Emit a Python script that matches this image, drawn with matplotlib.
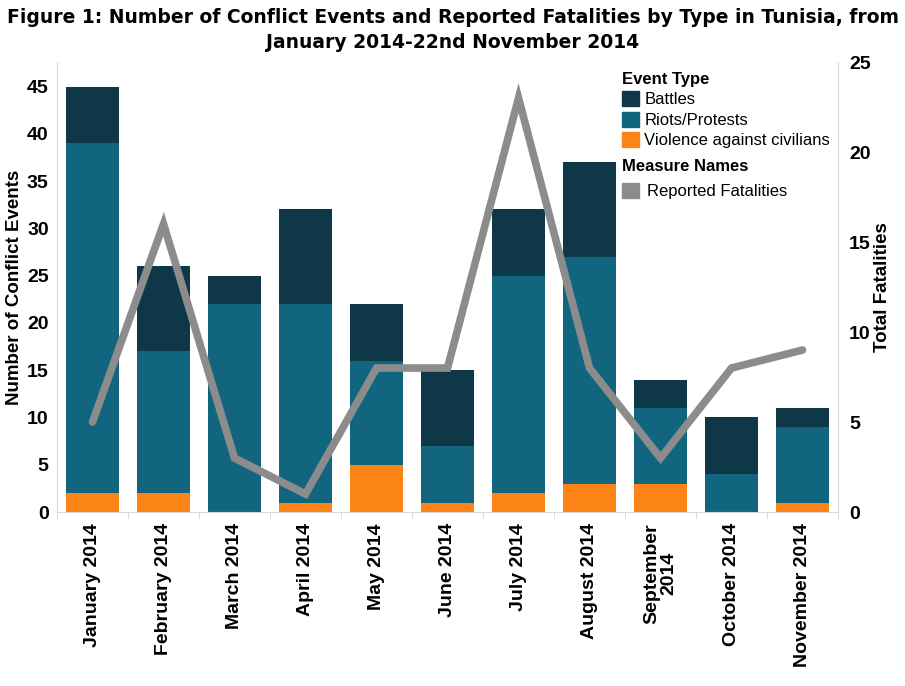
from matplotlib import pyplot as plt
from matplotlib.patches import Patch
import numpy as np

months = ["January 2014", "February 2014", "March 2014", "April 2014", "May 2014",
          "June 2014", "July 2014", "August 2014", "September\n2014",
          "October 2014", "November 2014"]
violence = [2, 2, 0, 1, 5, 1, 2, 3, 3, 0, 1]
riots = [37, 15, 22, 21, 11, 6, 23, 24, 8, 4, 8]
battles = [6, 9, 3, 10, 6, 8, 7, 10, 3, 6, 2]
fatalities = [5, 16, 3, 1, 8, 8, 23, 8, 3, 8, 9]

c_battles = "#0e3848"
c_riots = "#11657e"
c_violence = "#fc8315"
c_line = "#8c8c8c"
edge = "#d9d9d9"

plt.rcParams['font.family'] = ['Liberation Sans', 'DejaVu Sans']

fig = plt.figure(figsize=(9.05, 6.86), dpi=100)
ax = fig.add_axes([0.063, 0.2536, 0.863, 0.656])
x = np.arange(len(months))
v = np.array(violence)
r = np.array(riots)
b = np.array(battles)
ax.bar(x, v, width=0.75, color=c_violence, zorder=2)
ax.bar(x, r, width=0.75, bottom=v, color=c_riots, zorder=2)
ax.bar(x, b, width=0.75, bottom=v + r, color=c_battles, zorder=2)
ax.set_xlim(-0.5, len(months) - 0.5)
ax.set_ylim(0, 47.6)
ax.set_yticks(range(0, 50, 5))
ax.set_xticks(x)
ax.set_xticklabels(months, rotation=90, fontsize=14, fontweight='bold', linespacing=0.95)
ax.tick_params(axis='x', length=0, pad=8)
ax.set_xticks(np.arange(-0.5, len(months), 1), minor=True)
ax.tick_params(axis='x', which='minor', length=5, color=edge)
ax.tick_params(axis='y', length=0, labelsize=14, pad=6)
for t in ax.get_yticklabels():
    t.set_fontweight('bold')
ax.set_ylabel("Number of Conflict Events", fontsize=13.5, fontweight='bold', labelpad=3)
for s in ['top', 'right']:
    ax.spines[s].set_visible(False)
ax.spines['left'].set_color(edge)
ax.spines['bottom'].set_color(edge)

ax2 = ax.twinx()
ax2.plot(x, fatalities, color=c_line, lw=5.5, solid_joinstyle='miter',
         solid_capstyle='round', zorder=3)
ax2.set_ylim(0, 25)
ax2.set_yticks(range(0, 30, 5))
ax2.tick_params(axis='y', length=0, labelsize=14, pad=8)
for t in ax2.get_yticklabels():
    t.set_fontweight('bold')
ax2.set_ylabel("Total Fatalities", fontsize=13.5, fontweight='bold', labelpad=2)
for s in ['top', 'left', 'bottom']:
    ax2.spines[s].set_visible(False)
ax2.spines['right'].set_color(edge)

h1 = [Patch(color=c_battles), Patch(color=c_riots), Patch(color=c_violence)]
leg1 = fig.legend(h1, ["Battles", "Riots/Protests", "Violence against civilians"],
                  title="Event Type", loc='upper left', bbox_to_anchor=(0.678, 0.907),
                  frameon=False, fontsize=12, handlelength=1.0, handleheight=1.0,
                  handletextpad=0.35, labelspacing=0.25, borderpad=0, alignment='left')
leg1.get_title().set_fontweight('bold')
leg1.get_title().set_fontsize(12)
leg2 = fig.legend([Patch(color=c_line)], ["Reported Fatalities"],
                  title="Measure Names", loc='upper left', bbox_to_anchor=(0.678, 0.78),
                  frameon=False, fontsize=12, handlelength=1.0, handleheight=1.0,
                  handletextpad=0.5, borderpad=0, alignment='left')
leg2.get_title().set_fontweight('bold')
leg2.get_title().set_fontsize(12)

fig.text(0.5, 0.988, "Figure 1: Number of Conflict Events and Reported Fatalities by Type in Tunisia, from\nJanuary 2014-22nd November 2014",
         ha='center', va='top', fontsize=13.5, fontweight='bold', family='DejaVu Sans', linespacing=1.4)

fig.savefig("out.png", dpi=100)
